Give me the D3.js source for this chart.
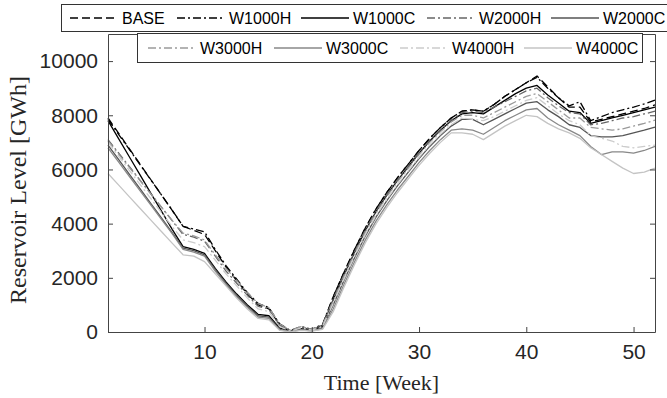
<!DOCTYPE html>
<html><head><meta charset="utf-8">
<script src="https://cdn.jsdelivr.net/npm/d3@7"></script>
<style>body{margin:0;background:#fff}</style>
</head><body><svg id="c" width="667" height="398"></svg>
<script>
const weeks = [1,2,3,4,5,6,7,8,9,10,11,12,13,14,15,16,17,18,19,20,21,22,23,24,25,26,27,28,29,30,31,32,33,34,35,36,37,38,39,40,41,42,43,44,45,46,47,48,49,50,51,52];
const xTicks = [10,20,30,40,50];
const yTicks = [0,2000,4000,6000,8000,10000];

const BASE = [7900,7330,6760,6190,5620,5050,4480,3900,3750,3600,3000,2400,1900,1400,1000,850,250,30,150,80,250,
  1300,2200,3050,3850,4550,5150,5700,6200,6700,7150,7550,7900,
  8150,8200,8150,8400,8700,8950,9200,9450,
  9050,8650,8300,8300,7750,7850,7950,8050,8150,8250,8380];
const W1000H = [7850,7290,6730,6170,5610,5050,4490,3900,3800,3700,3050,2450,1950,1450,1050,900,300,60,200,100,280,
  1300,2200,3050,3850,4550,5150,5700,6200,6700,7150,7550,7900,
  8150,8200,8150,8400,8700,8950,9200,9400,
  9000,8650,8350,8500,7800,7950,8100,8200,8300,8420,8560];
const W1000C = [7800,7130,6460,5790,5120,4450,3780,3150,3050,2900,2350,1850,1400,1000,650,600,150,20,120,60,200,
  1200,2100,2950,3750,4450,5050,5600,6100,6600,7050,7450,7800,
  8050,8100,8050,8300,8550,8800,9000,9100,
  8750,8450,8150,8100,7700,7800,7900,8000,8100,8200,8300];
const W2000H = [7100,6600,6100,5600,5100,4600,4100,3600,3500,3350,2800,2250,1800,1350,950,850,250,40,180,90,250,
  1220,2120,2970,3770,4470,5070,5620,6120,6620,7070,7470,7820,
  8100,8150,8100,8300,8500,8700,8900,9000,
  8650,8350,8100,8050,7650,7700,7800,7900,7950,8050,8150];
const W2000C = [6900,6360,5820,5280,4740,4200,3660,3100,3000,2850,2300,1800,1350,950,600,550,100,10,100,50,150,
  1000,1900,2750,3550,4250,4850,5400,5900,6400,6850,7250,7600,
  7850,7850,7650,7850,8050,8250,8450,8500,
  8200,7950,7650,7550,7250,7200,7200,7250,7350,7450,7560];
const W3000H = [7050,6560,6070,5580,5090,4600,4110,3650,3550,3400,2850,2350,1900,1450,1050,900,300,60,200,100,250,
  1150,2050,2900,3700,4400,5000,5550,6050,6550,7000,7400,7750,
  8000,8000,7900,8100,8300,8500,8700,8800,
  8500,8200,7900,7900,7550,7500,7450,7500,7600,7700,7820];
const W3000C = [6800,6270,5740,5210,4680,4150,3620,3050,2950,2800,2250,1750,1300,900,550,500,80,10,80,40,120,
  850,1750,2600,3400,4100,4700,5250,5750,6250,6700,7100,7450,
  7500,7450,7300,7550,7800,8000,8200,8250,
  7900,7650,7450,7250,6850,6550,6650,6650,6600,6700,6850];
const W4000H = [7000,6480,5960,5440,4920,4400,3880,3400,3300,3150,2650,2150,1700,1250,850,750,200,30,150,70,200,
  1050,1950,2800,3600,4300,4900,5450,5950,6450,6900,7300,7650,
  7900,7850,7800,7950,8150,8350,8550,8650,
  8350,8050,7800,7650,7250,7150,7050,6850,6800,6850,6900];
const W4000C = [5850,5420,4990,4560,4130,3700,3270,2850,2800,2600,2150,1700,1250,850,500,450,60,0,60,30,100,
  750,1650,2500,3300,4000,4600,5150,5650,6150,6600,7000,7350,
  7350,7300,7100,7350,7600,7800,8000,7950,
  7700,7500,7350,7150,6800,6550,6300,6050,5850,5900,6050];

const seriesNames = ["BASE","W1000H","W1000C","W2000H","W2000C","W3000H","W3000C","W4000H","W4000C"];
const seriesValues = [BASE,W1000H,W1000C,W2000H,W2000C,W3000H,W3000C,W4000H,W4000C];
const seriesColors = ["#000000","#000000","#000000","#666666","#555555","#9a9a9a","#888888","#cccccc","#c4c4c4"];
const seriesDash = ["8,4","8,3,2,3",null,"8,3,2,3",null,"8,3,2,3",null,"8,3,2,3",null];

const svg = d3.select("#c");
const x = d3.scaleLinear().domain([1,52]).range([108,655]);
const y = d3.scaleLinear().domain([0,11000]).range([332,34]);
const axisColor = "#444";

// box background
svg.append("rect").attr("x",108).attr("y",34).attr("width",547).attr("height",298).attr("fill","#fff");

// lines
const line = d3.line().x((d,i)=>x(weeks[i])).y(d=>y(d));
seriesValues.forEach((vals,k)=>{
  svg.append("path").attr("d",line(vals)).attr("fill","none")
    .attr("stroke",seriesColors[k]).attr("stroke-width",1.3)
    .attr("stroke-dasharray",seriesDash[k]).attr("stroke-linejoin","round");
});

// axes (MATLAB-like box with inward ticks)
const font = "'Liberation Sans', Arial, sans-serif";
const gB = svg.append("g").attr("transform","translate(0,332)")
  .call(d3.axisBottom(x).tickValues(xTicks).tickSizeInner(-5).tickSizeOuter(0).tickPadding(12));
const gT = svg.append("g").attr("transform","translate(0,34)")
  .call(d3.axisTop(x).tickValues(xTicks).tickSizeInner(-5).tickSizeOuter(0).tickFormat(""));
const gL = svg.append("g").attr("transform","translate(108,0)")
  .call(d3.axisLeft(y).tickValues(yTicks).tickSizeInner(-5).tickSizeOuter(0).tickPadding(10).tickFormat(d3.format("d")));
const gR = svg.append("g").attr("transform","translate(655,0)")
  .call(d3.axisRight(y).tickValues(yTicks).tickSizeInner(-5).tickSizeOuter(0).tickFormat(""));
[gB,gT,gL,gR].forEach(g=>{
  g.selectAll("path.domain").attr("stroke",axisColor).attr("stroke-width",1);
  g.selectAll(".tick line").attr("stroke",axisColor);
  g.selectAll("text").attr("fill","#262626").style("font-family",font).style("font-size","21px");
});
gB.selectAll("text").attr("dy","0.71em");

// axis labels
svg.append("text").attr("x",381.5).attr("y",390).attr("text-anchor","middle")
  .style("font-family","'Liberation Serif', 'Times New Roman', serif").style("font-size","22px").attr("fill","#262626")
  .text("Time [Week]");
svg.append("text").attr("transform","translate(26,190) rotate(-90)").attr("text-anchor","middle")
  .style("font-family","'Liberation Serif', 'Times New Roman', serif").style("font-size","24px").attr("fill","#262626")
  .text("Reservoir Level [GWh]");

// legends
function legend(items, box, starts, ty){
  svg.append("rect").attr("x",box[0]).attr("y",box[1]).attr("width",box[2]).attr("height",box[3])
    .attr("fill","#fff").attr("stroke","#333").attr("stroke-width",1);
  items.forEach((k,i)=>{
    svg.append("line").attr("x1",starts[i]).attr("x2",starts[i]+48).attr("y1",ty).attr("y2",ty)
      .attr("stroke",seriesColors[k]).attr("stroke-width",1.3).attr("stroke-dasharray",seriesDash[k]);
    svg.append("text").attr("x",starts[i]+52).attr("y",ty).attr("dy","0.35em")
      .style("font-family",font).style("font-size","16px").attr("fill","#000").text(seriesNames[k]);
  });
}
legend([0,1,2,3,4],[61.5,4.5,640,27],[70,177,301,427,551],18);
legend([5,6,7,8],[137.5,33.5,505,29],[148,274,400,524],48);
</script></body></html>
